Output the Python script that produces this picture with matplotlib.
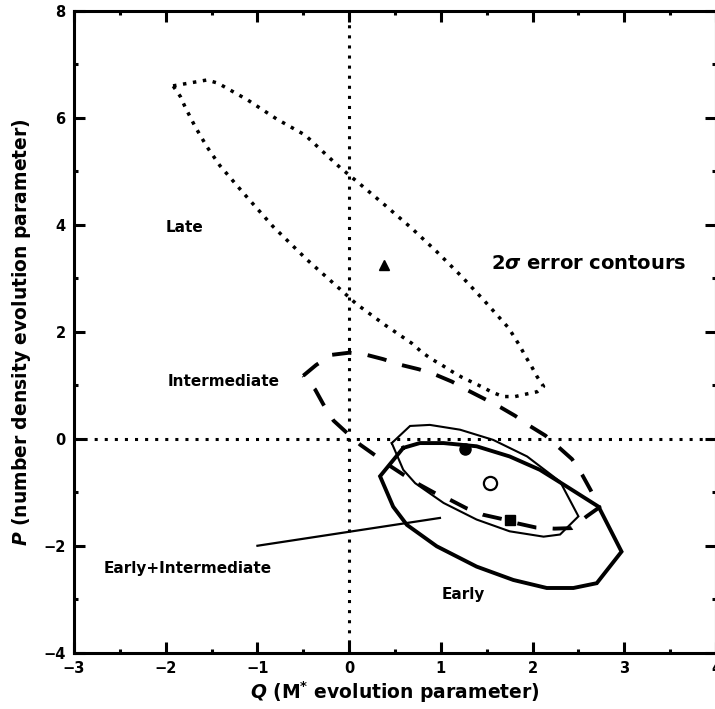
import matplotlib
matplotlib.use("Agg")
import matplotlib.pyplot as plt
from matplotlib.ticker import MultipleLocator

plt.rcParams["font.family"] = ["DejaVu Sans"]
plt.rcParams["font.weight"] = "bold"
plt.rcParams["mathtext.fontset"] = "custom"
plt.rcParams["mathtext.rm"] = "DejaVu Sans:bold"
plt.rcParams["mathtext.it"] = "DejaVu Sans:italic:bold"
plt.rcParams["mathtext.bf"] = "DejaVu Sans:bold"

# 2-sigma error contours in the (Q, P) plane
late_q = [-1.92, -1.55, -1.43, -1.11, -0.79, -0.48, -0.18, -0.09, 0.10, 0.39, 0.68,
          0.955, 1.23, 1.48, 1.74, 1.86, 1.92, 1.99, 2.05, 2.12, 2.05, 1.94, 1.81,
          1.68, 1.56, 1.45, 1.34, 1.23, 1.12, 1.01, 0.90, 0.80, 0.68, 0.39, 0.08,
          -0.10, -0.46, -0.83, -1.15, -1.41, -1.55, -1.68, -1.79, -1.84, -1.92]
late_p = [6.60, 6.71, 6.65, 6.34, 5.98, 5.68, 5.20, 5.06, 4.79, 4.37, 3.94,
          3.50, 3.03, 2.57, 2.07, 1.74, 1.55, 1.35, 1.16, 0.98, 0.88, 0.84, 0.79,
          0.79, 0.87, 0.97, 1.06, 1.15, 1.26, 1.38, 1.49, 1.61, 1.79, 2.13, 2.52,
          2.80, 3.35, 3.97, 4.59, 5.11, 5.46, 5.84, 6.21, 6.40, 6.60]

inter_q = [-0.50, -0.36, -0.19, 0.00, 0.19, 0.37, 0.57, 0.76, 0.94, 1.12, 1.30,
           1.46, 1.65, 1.81, 1.97, 2.14, 2.28, 2.43, 2.54, 2.63, 2.73, 2.59, 2.43,
           2.24, 2.04, 1.83, 1.72, 1.46, 1.28, 1.10, 0.94, 0.77, 0.59, 0.43, 0.26,
           0.12, -0.03, -0.17, -0.28, -0.37, -0.50]
inter_p = [1.18, 1.38, 1.57, 1.61, 1.57, 1.49, 1.38, 1.30, 1.20, 1.07, 0.90,
           0.76, 0.59, 0.43, 0.24, 0.06, -0.15, -0.38, -0.67, -0.95, -1.28, -1.45, -1.67,
           -1.68, -1.66, -1.58, -1.52, -1.42, -1.30, -1.14, -1.02, -0.86, -0.67, -0.49, -0.28,
           -0.11, 0.12, 0.34, 0.64, 0.92, 1.18]

early_inter_q = [0.465, 0.664, 0.88, 1.21, 1.57, 1.94, 2.30, 2.50, 2.30, 2.12,
                 1.75, 1.39, 1.03, 0.72, 0.59, 0.465]
early_inter_p = [-0.08, 0.24, 0.26, 0.17, -0.02, -0.33, -0.80, -1.45, -1.79, -1.83,
                 -1.73, -1.51, -1.20, -0.83, -0.58, -0.08]

early_q = [0.59, 0.337, 0.48, 0.63, 0.955, 1.39, 1.79, 2.155, 2.445, 2.70, 2.97,
           2.72, 2.37, 2.08, 1.75, 1.39, 1.03, 0.77, 0.59]
early_p = [-0.17, -0.70, -1.27, -1.61, -2.01, -2.39, -2.64, -2.79, -2.79, -2.70, -2.11,
           -1.27, -0.89, -0.58, -0.33, -0.14, -0.08, -0.08, -0.17]

# best-fit points
late_best = (0.38, 3.25)
inter_best = (1.75, -1.51)
early_inter_best = (1.54, -0.83)
early_best = (1.26, -0.19)

# pointer from the "Early+Intermediate" label to its contour
pointer_q = [-1.0, 0.99]
pointer_p = [-2.0, -1.48]

fig = plt.figure(figsize=(7.15, 7.09), dpi=100)
ax = fig.add_axes([74 / 715, 56.3 / 709, 642 / 715, 641.7 / 709])
ax.set_xlim(-3, 4)
ax.set_ylim(-4, 8)

# zero lines
ax.axvline(0, color="black", lw=2.2, ls=(0, (1, 2.3)), dash_capstyle="butt", zorder=1)
ax.axhline(0, color="black", lw=2.2, ls=(0, (1, 2.3)), dash_capstyle="butt", zorder=1)

ax.plot(late_q, late_p, color="black", lw=2.5, ls=(0, (1, 1.9)),
        dash_capstyle="butt", solid_joinstyle="miter")
ax.plot(inter_q, inter_p, color="black", lw=2.8, ls=(0, (5.0, 4.2)),
        dash_capstyle="butt")
ax.plot(early_inter_q, early_inter_p, color="black", lw=1.5, solid_joinstyle="miter")
ax.plot(early_q, early_p, color="black", lw=2.8, solid_joinstyle="miter")
ax.plot(pointer_q, pointer_p, color="black", lw=1.6)

ax.plot(*late_best, marker="^", color="black", ms=7, ls="none")
ax.plot(*inter_best, marker="s", color="black", ms=7, ls="none")
ax.plot(*early_inter_best, marker="o", mfc="white", mec="black", mew=1.6, ms=9.5, ls="none")
ax.plot(*early_best, marker="o", color="black", ms=8, ls="none")

txt = dict(ha="center", va="center", fontsize=11, fontweight="bold")
ax.text(-1.79, 3.96, "Late", **txt)
ax.text(-1.37, 1.08, "Intermediate", **txt)
ax.text(-1.76, -2.42, "Early+Intermediate", **txt)
ax.text(1.25, -2.92, "Early", **txt)
ax.text(2.61, 3.28, r"2$\sigma$ error contours", ha="center", va="center",
        fontsize=14, fontweight="bold")

ax.xaxis.set_major_locator(MultipleLocator(1))
ax.xaxis.set_minor_locator(MultipleLocator(0.5))
ax.yaxis.set_major_locator(MultipleLocator(2))
ax.yaxis.set_minor_locator(MultipleLocator(1))
ax.tick_params(which="both", direction="in", top=True, right=True, width=2.2,
               labelsize=10.5)
ax.tick_params(which="major", length=8, pad=6)
ax.tick_params(which="minor", length=3)
for lab in ax.get_xticklabels() + ax.get_yticklabels():
    lab.set_fontweight("bold")
for sp in ax.spines.values():
    sp.set_linewidth(2.2)

ax.set_xlabel(r"$Q$ (M$^{*}$ evolution parameter)", fontsize=13.5, fontweight="bold",
              va="center")
ax.set_ylabel(r"$P$ (number density evolution parameter)", fontsize=13.5,
              fontweight="bold", va="center")
ax.xaxis.set_label_coords(0.5, -0.062)
ax.yaxis.set_label_coords(-0.081, 0.5)

fig.savefig("out.png", dpi=100)
